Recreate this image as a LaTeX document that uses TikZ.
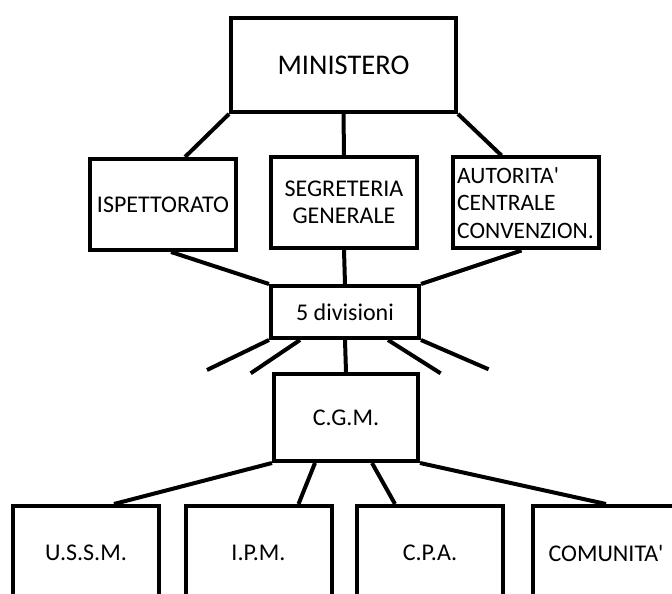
\documentclass[tikz,border=0pt]{standalone}
\usepackage{fontspec}
\setmainfont{Carlito}
\newfontfamily\plainfont{Carlito}
\newcommand{\apos}{{\plainfont'}}
\begin{document}
\begin{tikzpicture}[x=1pt,y=1pt,
  box/.style={draw, line width=4pt, inner sep=0pt, minimum width=146pt, minimum height=91pt,
    font=\fontsize{24}{27.5}\selectfont, align=center},
  conn/.style={line width=4pt}]
\useasboundingbox (0,0) rectangle (672,594);
\clip (0,0) rectangle (672,594);
% boxes
\node[box, minimum width=225pt, minimum height=94pt, font=\fontsize{28.5}{30}\selectfont] (min) at (343.5,529) {MINISTERO};
\node[box] (isp) at (163,389.5) {ISPETTORATO};
\node[box] (seg) at (344,391.5) {SEGRETERIA\\GENERALE};
\node[box, align=left, font=\fontsize{23.5}{27.5}\selectfont] (aut) at (525.5,391) {AUTORITA\apos\\CENTRALE\\CONVENZION.};
\node[box, minimum width=148pt, minimum height=52pt] (div) at (345,282) {5 divisioni};
\node[box, minimum width=144pt, minimum height=87pt] (cgm) at (346,176.5) {C.G.M.};
\node[box, minimum height=94pt] (ussm) at (86,41) {U.S.S.M.};
\node[box, minimum height=94pt] (ipm) at (258.5,41) {I.P.M.};
\node[box, minimum height=94pt] (cpa) at (430,41) {C.P.A.};
\node[box, minimum height=94pt] (com) at (606,41) {COMUNITA\apos};
% free ends
\coordinate (d1) at (207,224);
\coordinate (d2) at (250.7,220.7);
\coordinate (d4) at (440.6,220.7);
\coordinate (d5) at (488.6,224.7);
% connectors
\draw[conn] (min.south west) -- ([xshift=22pt]isp.north);
\draw[conn] (min.south) -- (seg.north);
\draw[conn] (min.south east) -- ([xshift=-24pt]aut.north);
\draw[conn] ([xshift=8pt]isp.south) -- (div.north west);
\draw[conn] (seg.south) -- (div.north);
\draw[conn] ([xshift=-4pt]aut.south) -- (div.north east);
\draw[conn] (div.south west) -- (d1);
\draw[conn] ([xshift=-45pt]div.south) -- (d2);
\draw[conn] (div.south) -- (cgm.north);
\draw[conn] ([xshift=43pt]div.south) -- (d4);
\draw[conn] (div.south east) -- (d5);
\draw[conn] (cgm.south west) -- ([xshift=28pt]ussm.north);
\draw[conn] ([xshift=-31pt]cgm.south) -- ([xshift=40pt]ipm.north);
\draw[conn] ([xshift=26pt]cgm.south) -- ([xshift=-35pt]cpa.north);
\draw[conn] (cgm.south east) -- (com.north);
\end{tikzpicture}
\end{document}
